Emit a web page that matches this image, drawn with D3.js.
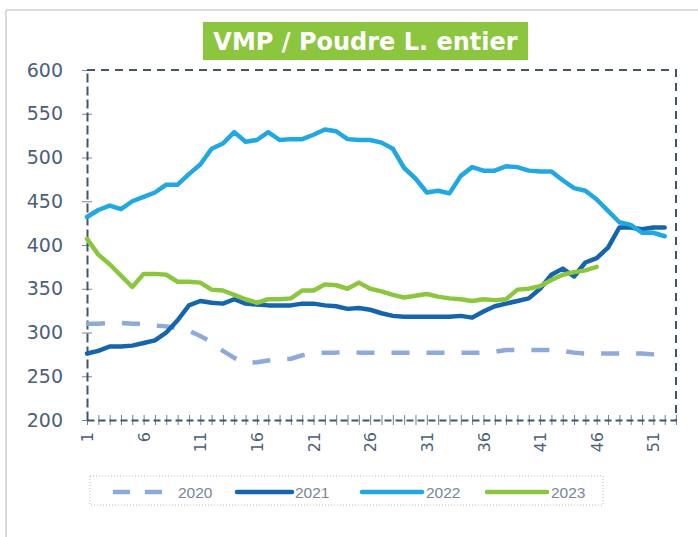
<!DOCTYPE html>
<html><head><meta charset="utf-8">
<script src="https://cdn.jsdelivr.net/npm/d3@7/dist/d3.min.js"></script>
<style>body{margin:0;background:#fff;}svg{display:block;}</style>
</head><body>
<svg id="chart" width="698" height="537"></svg>
<script>
const title = "VMP / Poudre L. entier";
const weeks = d3.range(1, 53);
const yTicks = [200,250,300,350,400,450,500,550,600];
const xTickLabels = [1,6,11,16,21,26,31,36,41,46,51];
const seriesNames = ["2020","2021","2022","2023"];
const y2020 = [310,310,311,311,310,310,308,307,305,302,296,289,279,271,265,266,268,269,270,274,276,277,277,278,277,277,277,277,277,277,277,277,277,277,277,277,278,280,280,280,280,280,279,277,276,276,276,276,276,276,275,276];
const y2021 = [276,279,284,284,285,288,291,300,314,331,336,334,333,338,333,332,331,331,331,333,333,331,330,327,328,326,322,319,318,318,318,318,318,319,317,324,330,333,336,339,350,366,373,364,380,385,397,420,420,418,420,420];
const y2022 = [432,440,445,441,450,455,460,469,469,481,492,510,516,529,518,520,529,520,521,521,526,532,530,521,520,520,517,510,488,476,460,462,459,479,489,485,485,490,489,485,484,484,474,465,462,452,439,426,423,414,414,410];
const y2023 = [407,389,378,365,352,367,367,366,358,358,357,349,348,343,338,334,338,338,339,348,348,355,354,350,357,350,347,343,340,342,344,341,339,338,336,338,337,338,349,350,353,360,366,369,371,375];

const colors = {"2020":"#8eaadb","2021":"#1565ad","2022":"#22a8e0","2023":"#8cc63f"};
const dashes = {"2020":"18,17","2021":null,"2022":null,"2023":null};
const values = {"2020":y2020,"2021":y2021,"2022":y2022,"2023":y2023};

const svg = d3.select("#chart");
const axisColor = "#44546a";
const labelColor = "#4d6079";

// outer frame
svg.append("line").attr("x1",6).attr("y1",10).attr("x2",698).attr("y2",10).attr("stroke","#cfcfcf").attr("stroke-width",1.5);
svg.append("line").attr("x1",6).attr("y1",10).attr("x2",6).attr("y2",537).attr("stroke","#cfcfcf").attr("stroke-width",1.5);

const x = d3.scaleLinear().domain([1,53]).range([87,676]);
const y = d3.scaleLinear().domain([200,600]).range([420,70]);

// plot border (top/right)
svg.append("path")
  .attr("d", `M${x(1)},${y(600)}H${x(53)}V${y(200)}`)
  .attr("fill","none").attr("stroke",axisColor).attr("stroke-width",2)
  .attr("stroke-dasharray","8,6");

// left axis
const yAxis = d3.axisLeft(y).tickValues(yTicks).tickSize(0).tickPadding(24);
const gy = svg.append("g").attr("transform",`translate(${x(1)},0)`).call(yAxis);
gy.select(".domain").attr("stroke",axisColor).attr("stroke-width",2).attr("stroke-dasharray","9,4");
gy.selectAll(".tick text").attr("fill",labelColor).style("font-family","DejaVu Sans").style("font-size","19px");
gy.selectAll(".tick").append("line").attr("x1",-5).attr("x2",5).attr("stroke",axisColor).attr("stroke-width",1).attr("opacity",0.7);

// bottom axis
const xAxis = d3.axisBottom(x).tickValues(d3.range(1,54)).tickSize(0).tickFormat(d => xTickLabels.includes(d) ? d : "");
const gx = svg.append("g").attr("transform",`translate(0,${y(200)})`).call(xAxis);
gx.select(".domain").attr("stroke",axisColor).attr("stroke-width",2).attr("stroke-dasharray","7,4");
gx.selectAll(".tick").append("line").attr("y1",-5).attr("y2",5).attr("stroke",axisColor).attr("stroke-width",1).attr("opacity",0.75);
gx.selectAll(".tick text")
  .attr("fill",labelColor).style("font-family","DejaVu Sans").style("font-size","16px")
  .attr("text-anchor","end").attr("dy","0.35em")
  .attr("transform","translate(0,12) rotate(-90)")
  .attr("x",0).attr("y",0);

// lines
const line = d3.line().x((d,i)=>x(weeks[i])).y(d=>y(d)).curve(d3.curveLinear);
seriesNames.forEach(n => {
  svg.append("path").datum(values[n])
    .attr("d", line)
    .attr("fill","none")
    .attr("stroke", colors[n])
    .attr("stroke-width", 4.5)
    .attr("stroke-linejoin","round")
    .attr("stroke-linecap", n==="2020" ? "butt" : "round")
    .attr("stroke-dasharray", dashes[n]);
});

// title
const tb = svg.append("g");
tb.append("rect").attr("x",203).attr("y",22).attr("width",325).attr("height",38).attr("fill","#8cc63f");
tb.append("text").attr("x",365.5).attr("y",50).attr("text-anchor","middle")
  .attr("fill","#fff").style("font-family","DejaVu Sans").style("font-weight","bold").style("font-size","24px")
  .text(title);

// legend
const lg = svg.append("g");
lg.append("rect").attr("x",90).attr("y",476).attr("width",513).attr("height",29)
  .attr("fill","none").attr("stroke","#b8b8b8").attr("stroke-width",1).attr("stroke-dasharray","1,2");
const legendPos = [{x1:113,x2:162,tx:178},{x1:237,x2:292,tx:295},{x1:362,x2:422,tx:426},{x1:487,x2:547,tx:551}];
seriesNames.forEach((n,i) => {
  const p = legendPos[i];
  lg.append("line").attr("x1",p.x1).attr("x2",p.x2).attr("y1",492).attr("y2",492)
    .attr("stroke",colors[n]).attr("stroke-width",4.5)
    .attr("stroke-linecap", n==="2020" ? "butt" : "round")
    .attr("stroke-dasharray", n==="2020" ? "17,15" : null);
  lg.append("text").attr("x",p.tx).attr("y",497.5).attr("fill","#7a8597")
    .style("font-family","Liberation Sans").style("font-size","15.5px").text(n);
});
</script>
</body></html>
